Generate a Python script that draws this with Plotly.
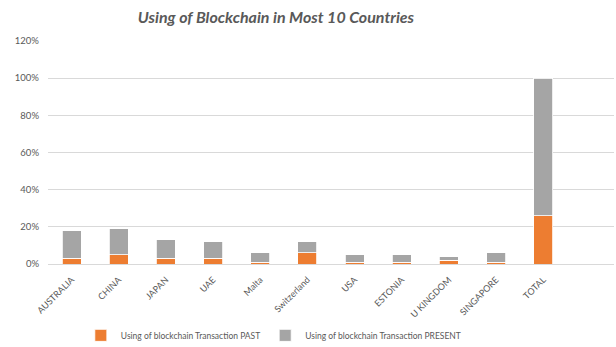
import plotly.graph_objects as go

categories = ["AUSTRALIA", "CHINA", "JAPAN", "UAE", "Malta", "Switzerland", "USA",
              "ESTONIA", "U KINGDOM", "SINGAPORE", "TOTAL", " "]
past = [0.03, 0.05, 0.03, 0.03, 0.01, 0.06, 0.01, 0.01, 0.02, 0.01, 0.26, None]
present = [0.15, 0.14, 0.10, 0.09, 0.05, 0.06, 0.04, 0.04, 0.02, 0.05, 0.74, None]
y_ticks = [0, 0.2, 0.4, 0.6, 0.8, 1.0, 1.2]

FONT = "Lato, Open Sans, sans-serif"
TXT = "#595959"

fig = go.Figure()
fig.add_trace(go.Bar(x=categories, y=past, name="Using of blockchain Transaction PAST",
                     marker=dict(color="#ED7D31", line=dict(color="#FFFFFF", width=0.8))))
fig.add_trace(go.Bar(x=categories, y=present, name="Using of blockchain Transaction PRESENT",
                     marker=dict(color="#A5A5A5", line=dict(color="#FFFFFF", width=0.8))))

fig.update_layout(
    barmode="stack",
    bargap=0.6,
    width=616, height=347,
    margin=dict(l=48, r=2, t=41, b=83, autoexpand=False),
    paper_bgcolor="white", plot_bgcolor="white",
    font=dict(family=FONT, size=10, color=TXT),
    title=dict(text="<b><i>Using of Blockchain in Most 10 Countries</i></b>",
               x=0.448, xanchor="center", y=0.95, yanchor="middle",
               font=dict(family=FONT, size=16, color=TXT)),
    xaxis=dict(type="category", categoryorder="array", categoryarray=categories,
               range=[-0.5, 11.5], tickangle=-45, showgrid=False,
               showline=True, linecolor="#D9D9D9", linewidth=1, ticks="",
               ticklabelstandoff=6,
               tickfont=dict(size=9, color=TXT)),
    yaxis=dict(range=[0, 1.2], tickvals=y_ticks, tickformat=".0%",
               showgrid=True, gridcolor="#D9D9D9", gridwidth=1, zeroline=False,
               ticks="", ticklabelstandoff=8, tickfont=dict(size=9.5, color=TXT)),
    legend=dict(orientation="h", traceorder="normal", x=0.058, xanchor="left",
                y=-0.32, yanchor="middle",
                font=dict(size=8.5, color=TXT), itemwidth=30),
    showlegend=True,
)

fig.write_html("out.html")
